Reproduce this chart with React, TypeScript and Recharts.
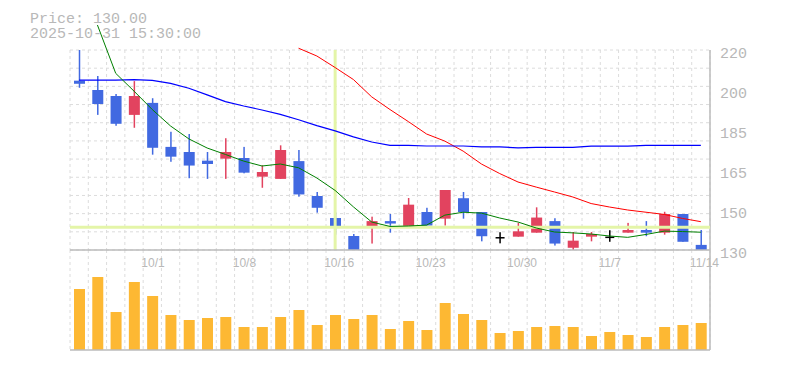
import React from 'react';
import {
  ComposedChart,
  Bar,
  Line,
  XAxis,
  YAxis,
  CartesianGrid,
  ReferenceLine,
} from 'recharts';

const dates = ['9/25','9/26','9/29','9/30','10/1','10/2','10/3','10/6','10/7','10/8','10/9','10/10','10/14','10/15','10/16','10/17','10/20','10/21','10/22','10/23','10/24','10/27','10/28','10/29','10/30','10/31','11/4','11/5','11/6','11/7','11/10','11/11','11/12','11/13','11/14'];

const opens = [206.2,202,199.3,190.8,196.2,176.4,174.1,170.2,171.1,171.4,163,162,170,154.3,144.4,136.3,140,143,140,147.1,144.1,153.3,147.1,135.5,136,137.8,143,131,136,135.7,137.8,139,137.8,146.2,132.3];
const highs = [220,208.3,200.2,206,198.3,183.2,182.2,174.1,180.3,176.4,168.1,177.1,175,156.1,147,137.2,145,146.2,153.4,149,157,156.1,147.1,138,142.2,149.2,144.3,138.1,138.1,138.9,142.2,143,147.2,146.2,139];
const lows = [203,190.8,185.9,185,172.9,169.7,162.3,162,162,164.5,158,162,154,146.8,136.9,130,132.9,137.8,140,141,141,144.1,133.9,133,136,137.8,132,130,133.9,133.7,137.8,136.2,136.9,133.7,130];
const closes = [204.8,195.7,186.8,199.3,176,172,168,168.7,174.1,164.8,165.1,175,155,149,140,130,143,141.9,150.4,141,157,147.1,136.2,135.5,138.4,144.6,132.9,134.2,137.2,135.7,139,137.8,146.2,133.7,130];

const maShort = [null,231.25,209.5,201.5,193.2,185.8,180,175.9,173,170,167.8,168.7,167,162.4,156.8,149.4,142.6,140.6,140.8,141.2,145.7,147,146.6,144.4,142.6,139.9,138.1,137.7,137.2,136.3,135.7,137,138.5,138.3,138];
const maMid = [206.4,206.4,206.4,206.7,206.3,205,202.8,199.8,196.8,194.8,193,191,188.6,186,183.6,180.9,178.6,177.1,177.1,176.8,176.8,176.8,176.4,176.4,176,176.2,176.2,176.2,176.7,176.7,176.7,177.1,177.1,177.1,177.1];
const maLong = [null,null,null,null,null,null,null,null,null,null,null,null,220.8,217.3,212.1,206.7,198.9,193.2,187.8,182.2,179,174.5,168.7,164.4,160.6,158.3,156.1,153.85,150.9,149.35,148,147,146,144.2,142.75];

const volumes = [61,73,38,68,54,35,30,32,33,23,23,33,40,25,35,31,35,21,29,20,47,36,30,17,19,23,24,23,14,18,15,13,23,25,27];

const xTickLabels = ['10/1','10/8','10/16','10/23','10/30','11/7','11/14'];
const yTicks = [130,148,166,184,202,220];
const crossDate = '10/16';
const crossPrice = 140.2;
const headerLines = ['Price: 130.00', '2025-10-31 15:30:00'];

const BLUE = '#4169E1';
const RED = '#E2435F';
const GRID = '#dcdcdc';
const AXIS = '#bbbbbb';
const TEXT = '#b8b8b8';
const CROSS = '#e4f5a8';
const MONO = '"Liberation Mono", "DejaVu Sans Mono", monospace';
const SANS = '"Liberation Sans", Arial, sans-serif';

const priceData = dates.map((date, i) => ({
  date,
  open: opens[i],
  high: highs[i],
  low: lows[i],
  close: closes[i],
  range: [lows[i], highs[i]],
  ma5: maShort[i],
  ma25: maMid[i],
  ma75: maLong[i],
}));
const volumeData = dates.map((date, i) => ({ date, volume: volumes[i] }));

const N = dates.length;
const PRICE_MIN = 130;
const PRICE_MAX_LABEL = 220;
const DOMAIN_MAX = 233.5;

const Candle = (props: any) => {
  const { x, y, width, height, payload } = props;
  const { open, close, high, low } = payload;
  const span = high - low || 1;
  const py = (v: number) => y + ((high - v) / span) * height;
  const cx = x + width / 2;
  const color = close > open ? RED : close < open ? BLUE : '#000000';
  if (close === open) {
    const yy = py(open);
    return (
      <g>
        <rect x={cx - 0.75} y={y} width={1.5} height={height} fill={color} />
        <rect x={x + 1} y={yy - 0.75} width={width - 2} height={1.5} fill={color} />
      </g>
    );
  }
  const top = py(Math.max(open, close));
  const bot = py(Math.min(open, close));
  return (
    <g>
      <rect x={cx - 0.75} y={y} width={1.5} height={height} fill={color} />
      <rect x={x} y={top} width={width} height={Math.max(bot - top, 1.5)} fill={color} />
    </g>
  );
};

const XTick = (props: any) => {
  const { x, y, payload } = props;
  if (!xTickLabels.includes(payload.value)) return <g />;
  return (
    <text x={x - 11} y={y + 17} textAnchor="start" fill={TEXT} fontSize={12} fontFamily={SANS}>
      {payload.value}
    </text>
  );
};

const YTick = (props: any) => {
  const { x, y, payload } = props;
  const v = Math.round(payload.value / 5) * 5;
  return (
    <text x={x + 10} y={y + 8.3} textAnchor="start" fill={TEXT} fontSize={15} fontFamily={MONO}>
      {v}
    </text>
  );
};

const vGen = ({ offset }: any) => {
  const pts: number[] = [];
  for (let k = 0; k <= N; k++) pts.push(offset.left + (k * offset.width) / N);
  return pts;
};

const hGenPrice = ({ offset }: any) => {
  const bottom = offset.top + offset.height;
  const band = (offset.height * (PRICE_MAX_LABEL - PRICE_MIN)) / (DOMAIN_MAX - PRICE_MIN);
  const pts: number[] = [];
  for (let k = 0; k <= 11; k++) pts.push(bottom - (k * band) / 11);
  return pts;
};

const rightEdge = ({ offset }: any) => [offset.left + offset.width];

export default function App() {
  return (
    <div style={{ position: 'absolute', left: 0, top: 0, width: 785, height: 370, background: '#fff' }}>
      <div style={{ position: 'absolute', left: 0, top: 250 }}>
        <ComposedChart
          width={785}
          height={110}
          data={volumeData}
          margin={{ top: 0, right: 15, bottom: 0, left: 70 }}
        >
          <CartesianGrid horizontal={false} verticalCoordinatesGenerator={vGen} stroke={GRID} strokeDasharray="3 3" />
          <XAxis dataKey="date" height={10} tick={false} tickLine={false} axisLine={{ stroke: AXIS, strokeWidth: 1.5 }} />
          <YAxis orientation="right" width={60} domain={[0, 100]} tick={false} tickLine={false} axisLine={{ stroke: AXIS, strokeWidth: 1.5 }} />
          <Bar dataKey="volume" fill="#FDB833" barSize={11} isAnimationActive={false} />
        </ComposedChart>
      </div>
      <div style={{ position: 'absolute', left: 0, top: 0 }}>
        <ComposedChart
          width={785}
          height={275}
          data={priceData}
          margin={{ top: 20, right: 15, bottom: 0, left: 70 }}
        >
          <CartesianGrid
            y={50}
            height={200}
            horizontalCoordinatesGenerator={hGenPrice}
            verticalCoordinatesGenerator={vGen}
            stroke={GRID}
            strokeDasharray="3 3"
          />
          <CartesianGrid y={50} height={200} horizontal={false} verticalCoordinatesGenerator={rightEdge} stroke={AXIS} strokeWidth={1.5} />
          <XAxis
            dataKey="date"
            height={25}
            interval={0}
            tickSize={0}
            tickMargin={0}
            tickLine={false}
            tick={<XTick />}
            axisLine={{ stroke: AXIS, strokeWidth: 1.5 }}
          />
          <YAxis
            orientation="right"
            width={60}
            domain={[PRICE_MIN, DOMAIN_MAX]}
            ticks={yTicks}
            interval={0}
            tickSize={0}
            tickMargin={0}
            tickLine={false}
            axisLine={false}
            tick={<YTick />}
          />
          <ReferenceLine y={crossPrice} stroke={CROSS} strokeWidth={3} />
          <ReferenceLine
            segment={[{ x: crossDate, y: PRICE_MIN }, { x: crossDate, y: PRICE_MAX_LABEL }]}
            stroke={CROSS}
            strokeWidth={3}
          />
          <Bar dataKey="range" barSize={11} shape={<Candle />} isAnimationActive={false} />
          <Line dataKey="ma75" stroke="#ff0000" strokeWidth={1} dot={false} activeDot={false} isAnimationActive={false} />
          <Line dataKey="ma25" stroke="#0000ff" strokeWidth={1.2} dot={false} activeDot={false} isAnimationActive={false} />
          <Line dataKey="ma5" stroke="#008000" strokeWidth={1} dot={false} activeDot={false} isAnimationActive={false} />
        </ComposedChart>
      </div>
      <svg width={785} height={45} style={{ position: 'absolute', left: 0, top: 0, pointerEvents: 'none' }}>
        {headerLines.map((t, i) => (
          <text key={t} x={30} y={22.7 + i * 15} fill={TEXT} fontSize={15} fontFamily={MONO}>
            {t}
          </text>
        ))}
      </svg>
    </div>
  );
}
